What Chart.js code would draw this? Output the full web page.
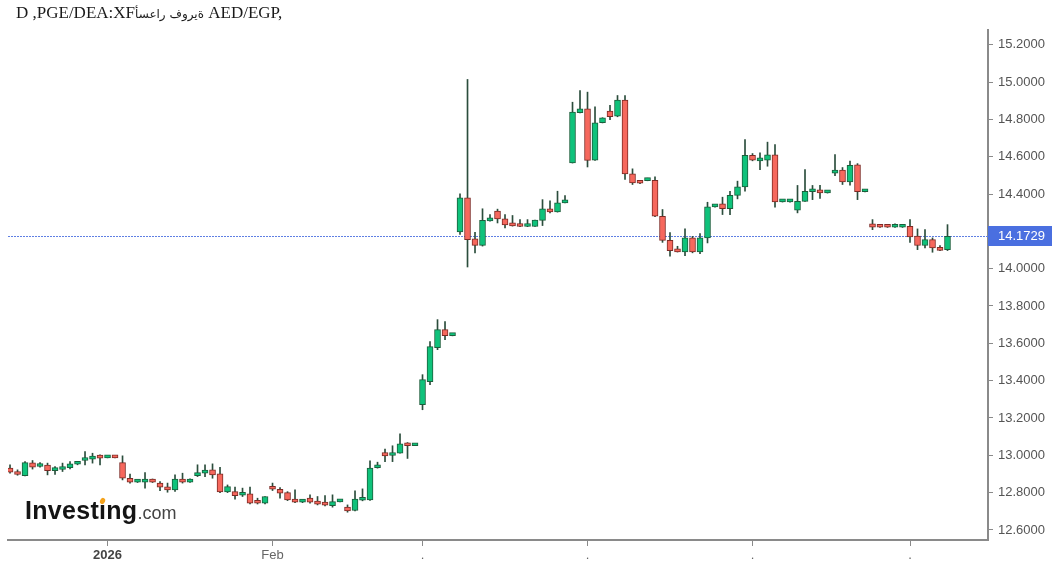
<!DOCTYPE html>
<html>
<head>
<meta charset="utf-8">
<script src="https://cdn.jsdelivr.net/npm/chart.js@4.4.1/dist/chart.umd.min.js"></script>
<style>
    html, body { margin: 0; padding: 0; background: #fff; }
    #wrap { position: relative; width: 1059px; height: 568px; }
    #title {
        position: absolute; left: 16px; top: 3px;
        font: 17px "Liberation Serif", "DejaVu Serif", serif; color: #1a1a1a;
        white-space: nowrap; unicode-bidi: bidi-override; direction: ltr;
    }
    #title .ar { font: 12px "DejaVu Sans", sans-serif; letter-spacing: -0.6px; }
</style>
</head>
<body>
<div id="wrap">
    <canvas id="priceChart" width="1059" height="568"></canvas>
    <div id="title">D ,PGE/DEA:XF<span class="ar">أسعار فورية</span> AED/EGP,</div>
</div>
<script>
// daily candles (index 0 = first candle on the left)
const opens = [
    12.931, 12.913, 12.891, 12.959, 12.940, 12.947, 12.918, 12.924, 12.934, 12.952,
    12.972, 12.979, 12.993, 12.986, 12.987, 12.961, 12.877, 12.856, 12.856, 12.872,
    12.851, 12.831, 12.815, 12.872, 12.856, 12.891, 12.904, 12.922, 12.900, 12.804,
    12.805, 12.786, 12.793, 12.749, 12.743, 12.827, 12.818, 12.800, 12.765, 12.749,
    12.770, 12.752, 12.743, 12.730, 12.750, 12.723, 12.704, 12.759, 12.761, 12.933,
    13.015, 12.999, 13.011, 13.061, 13.051, 13.271, 13.394, 13.576, 13.673, 13.641,
    14.197, 14.380, 14.160, 14.125, 14.256, 14.308, 14.267, 14.236, 14.235, 14.226,
    14.226, 14.259, 14.321, 14.304, 14.353, 14.567, 14.836, 14.857, 14.581, 14.782,
    14.844, 14.817, 14.903, 14.508, 14.463, 14.472, 14.474, 14.281, 14.152, 14.101,
    14.090, 14.165, 14.090, 14.165, 14.331, 14.347, 14.321, 14.393, 14.438, 14.608,
    14.578, 14.581, 14.610, 14.358, 14.358, 14.313, 14.361, 14.412, 14.417, 14.406,
    14.512, 14.528, 14.465, 14.556, 14.412, 14.240, 14.228, 14.228, 14.222, 14.222,
    14.227, 14.174, 14.124, 14.156, 14.115, 14.102
];
const highs = [
    12.949, 12.922, 12.966, 12.972, 12.961, 12.958, 12.940, 12.958, 12.966, 12.963,
    13.020, 13.011, 13.002, 12.988, 12.988, 12.997, 12.899, 12.864, 12.907, 12.873,
    12.859, 12.851, 12.895, 12.904, 12.874, 12.949, 12.949, 12.954, 12.936, 12.841,
    12.829, 12.824, 12.829, 12.770, 12.779, 12.851, 12.827, 12.805, 12.815, 12.761,
    12.788, 12.779, 12.784, 12.788, 12.756, 12.734, 12.809, 12.820, 12.970, 12.963,
    13.033, 13.051, 13.115, 13.068, 13.054, 13.432, 13.609, 13.727, 13.716, 13.653,
    14.401, 15.014, 14.195, 14.321, 14.290, 14.319, 14.290, 14.285, 14.263, 14.263,
    14.261, 14.370, 14.363, 14.415, 14.392, 14.892, 14.955, 14.946, 14.867, 14.809,
    14.875, 14.928, 14.928, 14.535, 14.464, 14.485, 14.492, 14.317, 14.193, 14.120,
    14.213, 14.173, 14.188, 14.356, 14.340, 14.383, 14.415, 14.469, 14.692, 14.617,
    14.621, 14.678, 14.665, 14.370, 14.370, 14.446, 14.531, 14.446, 14.446, 14.416,
    14.612, 14.542, 14.576, 14.563, 14.421, 14.263, 14.229, 14.229, 14.240, 14.229,
    14.263, 14.213, 14.209, 14.165, 14.124, 14.236
];
const lows = [
    12.904, 12.893, 12.890, 12.926, 12.936, 12.895, 12.897, 12.913, 12.927, 12.949,
    12.949, 12.958, 12.949, 12.986, 12.986, 12.868, 12.851, 12.854, 12.824, 12.854,
    12.811, 12.802, 12.806, 12.851, 12.855, 12.886, 12.886, 12.877, 12.800, 12.800,
    12.765, 12.779, 12.739, 12.739, 12.739, 12.811, 12.770, 12.757, 12.746, 12.746,
    12.743, 12.734, 12.729, 12.722, 12.750, 12.695, 12.702, 12.756, 12.758, 12.931,
    12.966, 12.966, 13.011, 12.983, 13.051, 13.244, 13.378, 13.566, 13.619, 13.640,
    14.183, 14.009, 14.084, 14.121, 14.255, 14.245, 14.219, 14.228, 14.225, 14.225,
    14.226, 14.231, 14.299, 14.303, 14.352, 14.566, 14.835, 14.545, 14.580, 14.781,
    14.799, 14.814, 14.478, 14.451, 14.456, 14.471, 14.279, 14.141, 14.067, 14.089,
    14.070, 14.085, 14.081, 14.138, 14.330, 14.290, 14.290, 14.374, 14.415, 14.578,
    14.531, 14.549, 14.329, 14.357, 14.357, 14.299, 14.360, 14.370, 14.376, 14.405,
    14.498, 14.451, 14.447, 14.370, 14.411, 14.209, 14.221, 14.221, 14.221, 14.221,
    14.141, 14.102, 14.111, 14.088, 14.097, 14.097
];
const closes = [
    12.910, 12.897, 12.961, 12.936, 12.954, 12.917, 12.926, 12.940, 12.954, 12.961,
    12.979, 12.993, 12.985, 12.987, 12.986, 12.877, 12.856, 12.861, 12.872, 12.856,
    12.829, 12.815, 12.872, 12.856, 12.863, 12.907, 12.918, 12.895, 12.804, 12.832,
    12.784, 12.793, 12.743, 12.743, 12.779, 12.818, 12.797, 12.761, 12.749, 12.754,
    12.749, 12.738, 12.733, 12.752, 12.756, 12.702, 12.765, 12.766, 12.931, 12.947,
    12.997, 13.013, 13.061, 13.051, 13.054, 13.405, 13.582, 13.673, 13.641, 13.652,
    14.380, 14.156, 14.125, 14.259, 14.263, 14.267, 14.235, 14.229, 14.226, 14.231,
    14.261, 14.321, 14.304, 14.353, 14.356, 14.839, 14.857, 14.580, 14.782, 14.809,
    14.814, 14.903, 14.508, 14.460, 14.458, 14.479, 14.281, 14.152, 14.097, 14.090,
    14.165, 14.090, 14.165, 14.331, 14.338, 14.321, 14.393, 14.438, 14.608, 14.581,
    14.585, 14.610, 14.358, 14.365, 14.365, 14.361, 14.415, 14.424, 14.406, 14.415,
    14.528, 14.465, 14.554, 14.412, 14.420, 14.222, 14.222, 14.222, 14.228, 14.228,
    14.170, 14.124, 14.156, 14.111, 14.098, 14.1729
];

const lastPrice = 14.1729;
const priceTicks = [12.6, 12.8, 13.0, 13.2, 13.4, 13.6, 13.8, 14.0, 14.2, 14.4, 14.6, 14.8, 15.0, 15.2];
// x-axis ticks sit on the first candle of each month
const monthTickIdx = [13, 35, 55, 77, 99, 120];
const monthTickLabels = ['2026', 'Feb', '.', '.', '.', '.'];

const GREEN = '#0fc27b', GREEN_EDGE = '#1b5e3b';
const RED = '#f6685d', RED_EDGE = '#7d2a25';
const WICK = '#2b4d3c';

const isUp = i => closes[i] >= opens[i];

const bodies = opens.map((o, i) => ({ x: i, y: [o, closes[i]] }));
const wicks = lows.map((l, i) => ({ x: i, y: [l, highs[i]] }));

const overlay = {
    id: 'overlay',
    beforeDatasetsDraw(chart) {
        const { ctx, chartArea, scales } = chart;
        const y = scales.y.getPixelForValue(lastPrice);
        ctx.save();
        // current price line
        ctx.strokeStyle = '#5f7fe3';
        ctx.lineWidth = 1;
        ctx.setLineDash([2, 1]);
        ctx.beginPath();
        ctx.moveTo(chartArea.left, Math.round(y) + 0.5);
        ctx.lineTo(chartArea.right, Math.round(y) + 0.5);
        ctx.stroke();
        ctx.setLineDash([]);

        // watermark
        ctx.fillStyle = '#141414';
        ctx.font = 'bold 25px "Liberation Sans", Arial, sans-serif';
        ctx.textBaseline = 'alphabetic';
        ctx.letterSpacing = '0.3px';
        ctx.fillText('Investing', 25, 519);
        const w = ctx.measureText('Investing').width;
        const iw = ctx.measureText('Invest').width;
        const dotX = 25 + iw + 3.5;
        ctx.letterSpacing = '0px';
        ctx.fillStyle = '#fff';
        ctx.fillRect(dotX - 3, 497, 6, 6);
        ctx.fillStyle = '#f4a21c';
        ctx.beginPath();
        ctx.ellipse(dotX, 501, 2.4, 3.2, 0.5, 0, Math.PI * 2);
        ctx.fill();
        ctx.fillStyle = '#444';
        ctx.font = '18px "Liberation Sans", Arial, sans-serif';
        ctx.fillText('.com', 25 + w, 519);
        ctx.restore();
    },
    afterDraw(chart) {
        const { ctx, chartArea, scales } = chart;
        const y = scales.y.getPixelForValue(lastPrice);
        ctx.save();
        ctx.fillStyle = '#4a6fe0';
        ctx.fillRect(chartArea.right, Math.round(y) - 10, 64, 20);
        ctx.fillStyle = '#fff';
        ctx.font = '13px "Liberation Sans", Arial, sans-serif';
        ctx.textBaseline = 'middle';
        ctx.fillText(lastPrice.toFixed(4), chartArea.right + 10, Math.round(y) + 0.5);
        ctx.restore();
    }
};

const myChart = new Chart(document.getElementById('priceChart').getContext('2d'), {
    type: 'bar',
    data: {
        datasets: [
            {
                label: 'Body',
                data: bodies,
                order: 0,
                grouped: false,
                barThickness: 6,
                minBarLength: 3,
                borderWidth: 1,
                borderSkipped: false,
                backgroundColor: bodies.map((_, i) => isUp(i) ? GREEN : RED),
                borderColor: bodies.map((_, i) => isUp(i) ? GREEN_EDGE : RED_EDGE)
            },
            {
                label: 'Wick',
                data: wicks,
                order: 1,
                grouped: false,
                barThickness: 1,
                borderWidth: 0,
                backgroundColor: WICK
            }
        ]
    },
    options: {
        responsive: false,
        animation: false,
        layout: { padding: { left: 8, top: 30, right: 0, bottom: 0 } },
        plugins: { legend: { display: false }, tooltip: { enabled: false } },
        scales: {
            x: {
                type: 'linear',
                offset: false,
                min: -0.27,
                max: 130.4,
                afterBuildTicks: scale => { scale.ticks = monthTickIdx.map(v => ({ value: v })); },
                afterFit: scale => { scale.height = 28; },
                grid: { offset: false, drawOnChartArea: false, tickLength: 6, tickColor: '#8a8a8a', tickWidth: 1 },
                border: { color: '#8a8a8a', width: 2 },
                ticks: {
                    autoSkip: false,
                    maxRotation: 0,
                    padding: 2,
                    color: ctx => ctx.index === 0 ? '#444' : '#666',
                    font: ctx => ({ family: '"Liberation Sans", Arial, sans-serif', size: 13, weight: ctx.index === 0 ? 'bold' : 'normal' }),
                    callback: (value, index) => monthTickLabels[index]
                }
            },
            y: {
                position: 'right',
                min: 12.546,
                max: 15.279,
                afterBuildTicks: scale => { scale.ticks = priceTicks.map(v => ({ value: v })); },
                afterFit: scale => { scale.width = 71; },
                grid: { drawOnChartArea: false, tickLength: 5, tickColor: '#8a8a8a' },
                border: { color: '#8a8a8a', width: 2 },
                ticks: {
                    padding: 5,
                    color: '#555',
                    font: { family: '"Liberation Sans", Arial, sans-serif', size: 13 },
                    callback: v => v.toFixed(4)
                }
            }
        }
    },
    plugins: [overlay]
});
</script>
</body>
</html>
